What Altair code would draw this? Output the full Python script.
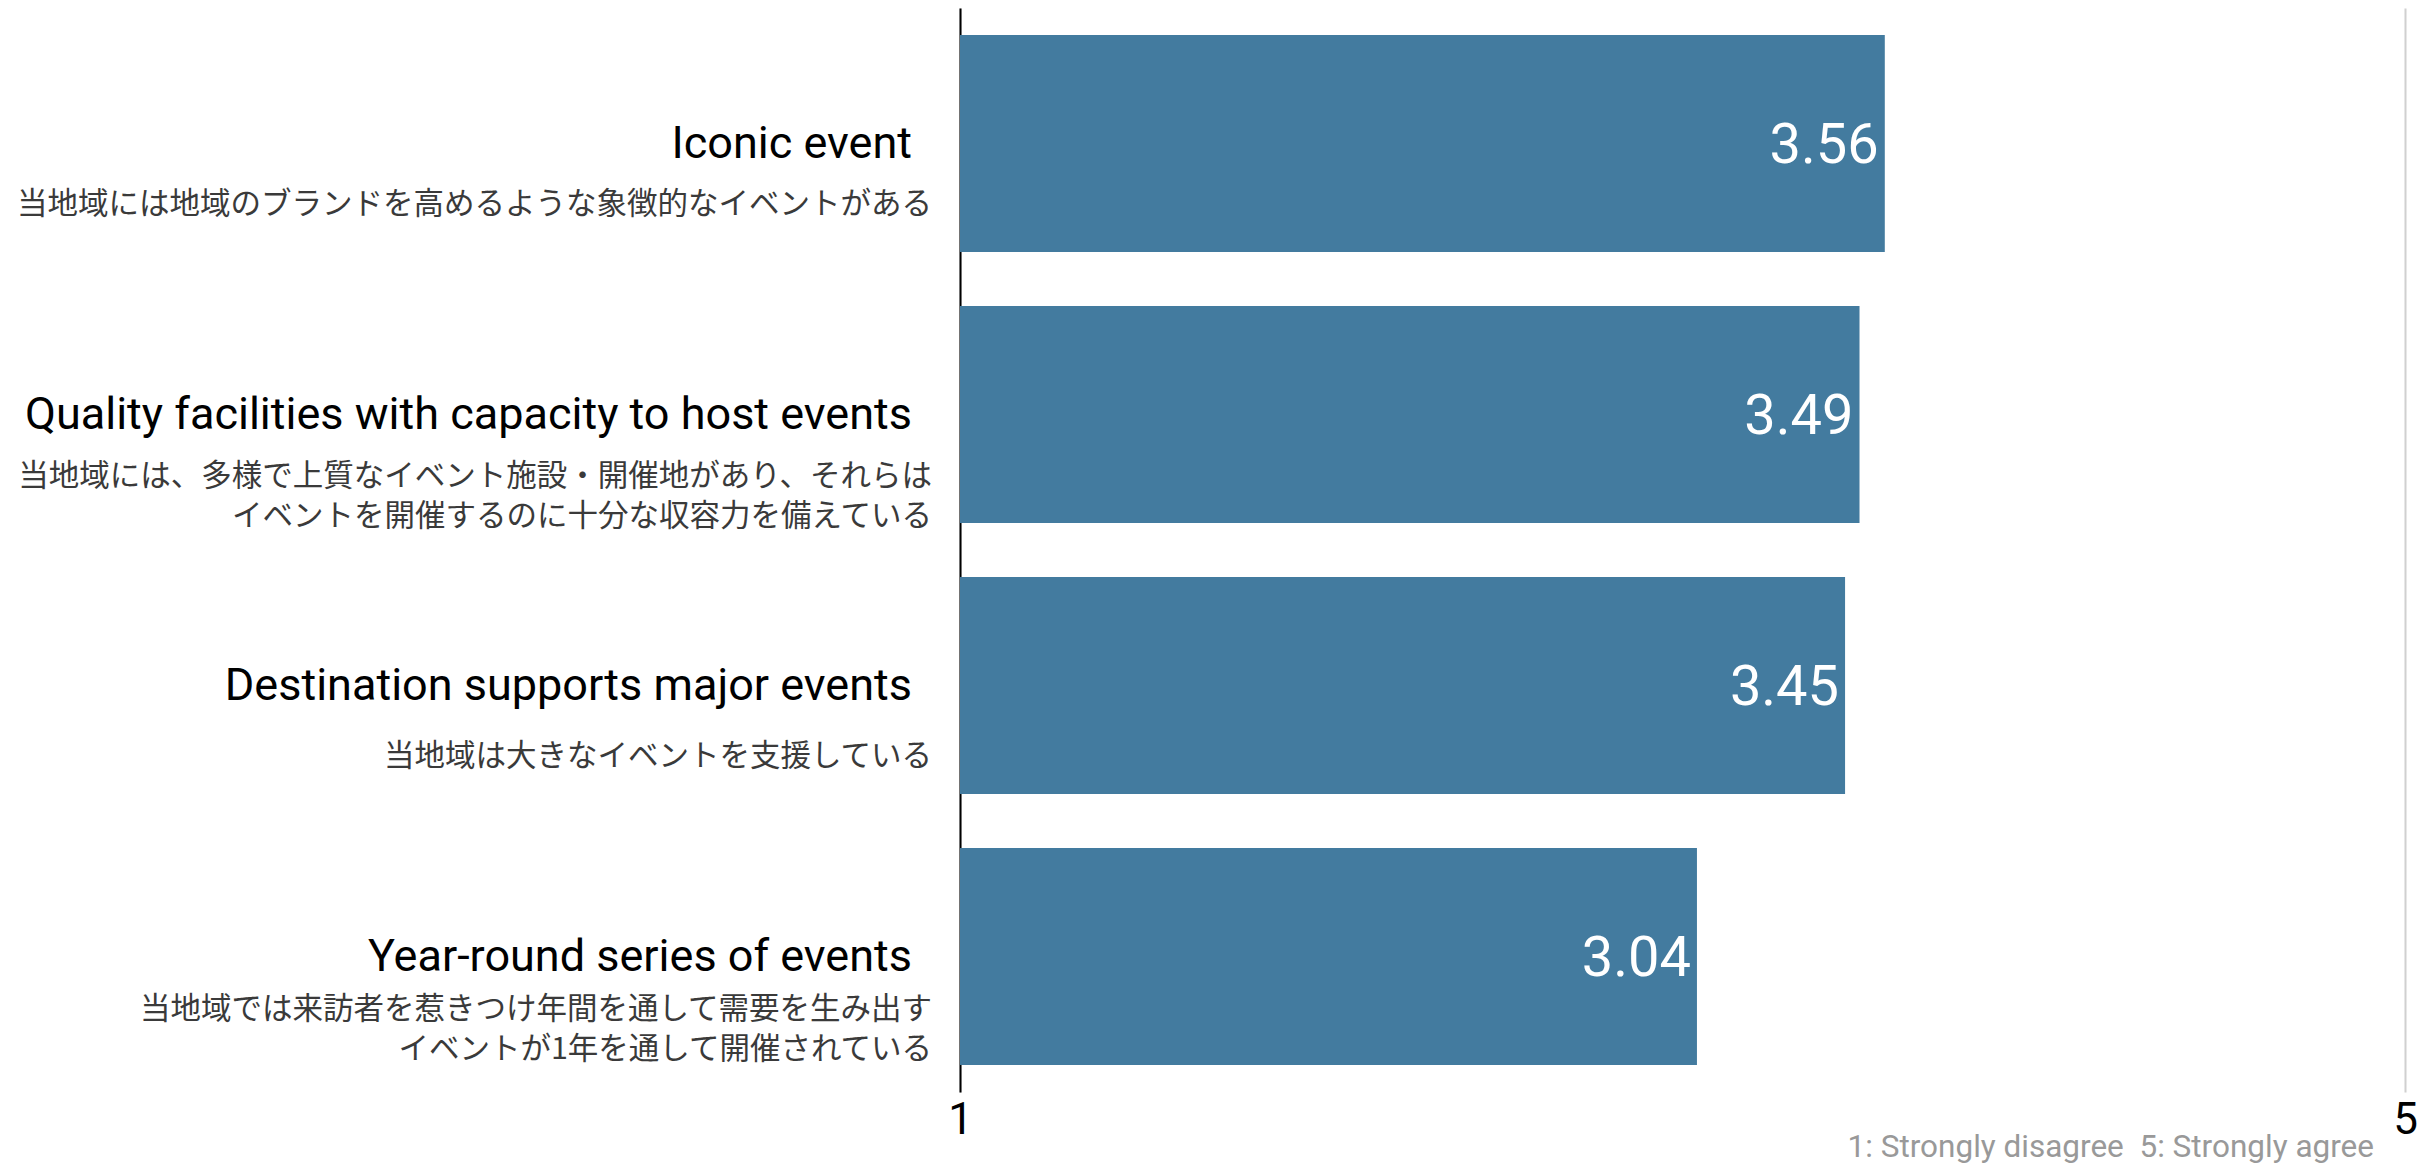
import altair as alt
import pandas as pd

categories = [
    "Iconic event",
    "Quality facilities with capacity to host events",
    "Destination supports major events",
    "Year-round series of events",
]
jp_labels = [
    "当地域には地域のブランドを高めるような象徴的なイベントがある",
    "当地域には、多様で上質なイベント施設・開催地があり、それらは\nイベントを開催するのに十分な収容力を備えている",
    "当地域は大きなイベントを支援している　",
    "当地域では来訪者を惹きつけ年間を通して需要を生み出す\nイベントが1年を通して開催されている",
]
values = [3.56, 3.49, 3.45, 3.04]
x_ticks = [1, 5]
footnote = "1: Strongly disagree\u00a0\u00a05: Strongly agree"

# vertical offset (px) of each Japanese sub-label below its band centre
jp_dy = [46, 47, 56, 38]

df = pd.DataFrame({"cat": categories, "jp": jp_labels, "value": values})
df["label"] = df["value"].map(lambda v: f"{v:.2f}")

FONT = "Roboto, Noto Sans CJK JP, sans-serif"
JPFONT = "Noto Sans CJK JP, Roboto, sans-serif"
W, H = 1445, 1084

y_enc = alt.Y("cat:N", sort=categories,
              scale=alt.Scale(paddingInner=0.2, paddingOuter=0.1),
              axis=alt.Axis(title=None, labels=False, ticks=False,
                            domain=True, domainColor="#000000", domainWidth=2,
                            grid=False))

x_enc = alt.X("value:Q", scale=alt.Scale(domain=[1, 5], nice=False, zero=False),
              axis=alt.Axis(title=None, values=x_ticks, format="d", domain=False, ticks=False,
                            grid=True, gridColor="#d0d0d0", gridWidth=2,
                            labelFontSize=44, labelColor="#000000", labelFont=FONT,
                            labelPadding=6, labelFlush=False))

base = alt.Chart(df)

bars = base.mark_bar(color="#437b9f").encode(x=x_enc, x2=alt.datum(1), y=y_enc)

vals = base.mark_text(align="right", baseline="middle", dx=-6, dy=2,
                      color="white", fontSize=56, font=FONT).encode(
    x="value:Q", y=alt.Y("cat:N", sort=categories), text="label:N")

eng = base.mark_text(align="right", baseline="middle", fontSize=45,
                     color="#000000", font=FONT, dy=0).encode(
    x=alt.value(-48), y=alt.Y("cat:N", sort=categories), text="cat:N")

jp_layers = []
for cat, d in zip(categories, jp_dy):
    jp_layers.append(
        base.transform_filter(alt.datum.cat == cat).mark_text(
            align="right", baseline="top", fontSize=30.5, lineHeight=40,
            color="#3a3a3a", font=JPFONT, dy=d, lineBreak="\n"
        ).encode(x=alt.value(-28), y=alt.Y("cat:N", sort=categories), text="jp:N")
    )

foot = alt.Chart(pd.DataFrame({"t": [footnote]})).mark_text(
    align="right", baseline="middle", fontSize=31.5, color="#999999", font=FONT
).encode(x=alt.value(1414), y=alt.value(1140), text="t:N")

chart = alt.layer(bars, vals, eng, *jp_layers, foot).properties(
    width=W, height=H,
    autosize=alt.AutoSizeParams(type="none"),
    padding={"left": 952, "top": 0, "right": 20, "bottom": 72},
).configure(font=FONT).configure_view(stroke=None)

chart.save("out.html", embed_options={"renderer": "svg", "actions": False})
